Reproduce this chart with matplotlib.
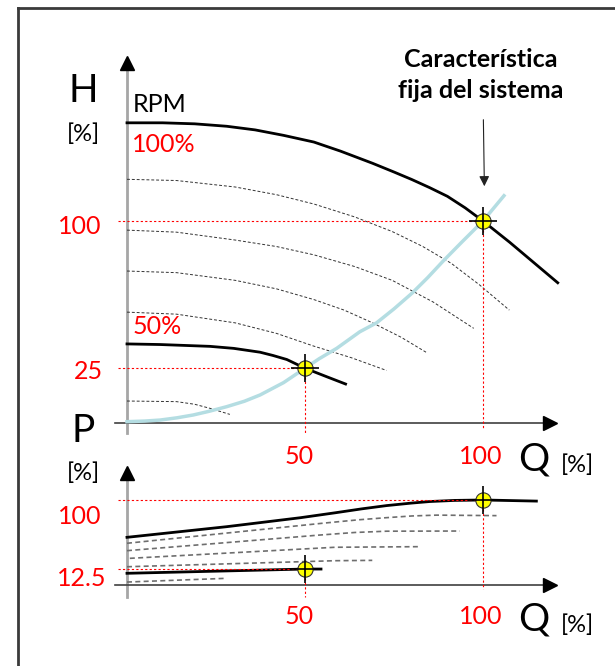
import numpy as np
import matplotlib.pyplot as plt
from matplotlib.lines import Line2D

plt.rcParams['font.family'] = ['Lato', 'DejaVu Sans']

# ---- data (Q, H, P in %) ----
# head curves, upper panel
q_h100 = [0, 10, 19, 28, 36, 44, 52.5, 60, 69, 75, 80, 85, 90, 95, 100, 107.5, 121]
h_h100 = [148.5, 148.5, 148, 146.8, 145, 142.3, 139, 134.5, 128.5, 124.2, 120.5, 116.5, 112.2, 106.5, 100, 89.5, 69.5]
q_h50 = [0, 9.3, 23.3, 30, 37.4, 41, 44.9, 50, 56.1, 61.4]
h_h50 = [39.3, 39.0, 38.1, 37.1, 35.2, 33.6, 31.6, 27.3, 23.1, 19.5]

# intermediate speeds (dashed)
q_hdash = [[0, 13.9, 30.4, 42, 52.5, 64, 74.5, 83, 91.1, 99, 107.4],
           [0, 13.9, 30.4, 42, 52.5, 64, 74.5, 86, 97.4],
           [0, 13.9, 30.4, 42, 52.5, 61, 69.0, 77, 84.2],
           [0, 13.9, 30.4, 42, 52.5, 63, 72.9],
           [0, 13.9, 19, 23.3, 28.9]]
h_hdash = [[120.6, 120, 116.8, 113, 108.4, 102, 94.8, 87.5, 79.1, 68.5, 56.0],
           [95.5, 94.5, 90.6, 87.4, 83.3, 77.5, 70.7, 60, 47.0],
           [75.3, 74.5, 70.7, 66.5, 61.2, 56, 49.7, 42.6, 35.0],
           [55.0, 54.0, 49.7, 44.5, 38.2, 32.5, 26.2],
           [11.1, 10.8, 9.5, 7.5, 4.5]]

# fixed system curve
q_sys = [0, 5, 9.3, 14, 18.6, 23, 28.0, 33, 37.4, 44, 50, 54, 58.9, 65.4, 70.1, 75, 80.1, 84.5, 88.8, 94, 100, 105.9]
h_sys = [0.9, 1.2, 1.7, 2.8, 4.2, 6.0, 8.3, 11.0, 14.1, 20.2, 27.3, 32, 37.1, 45.3, 49.7, 56.6, 64.4, 72.1, 80.2, 89.5, 100, 112.5]

# operating points
q_op = [100, 50]
h_op = [100, 27.3]
p_op = [100, 18.8]

# power curves, lower panel
q_p100 = [0, 28, 48.6, 58.4, 66, 72.9, 80, 85.1, 92, 100, 115]
p_p100 = [56.1, 68.6, 79.1, 84.9, 89.6, 93.4, 96.4, 98.2, 99.5, 100, 98.7]
q_p50 = [0, 50, 54.5]
p_p50 = [13.8, 18.8, 18.8]
q_pdash = [[0, 54.8, 65, 72.9, 80, 87, 103.8],
           [0, 54.2, 64, 72.9, 93.5],
           [0.8, 58.4, 81.7],
           [0, 58.4, 68.9],
           [0, 28]]
p_pdash = [[49.1, 72.6, 76.7, 79.2, 81.2, 82.2, 81.6],
           [40.4, 58.8, 61.8, 63.3, 63.5],
           [31.4, 44.4, 45.1],
           [21.5, 28.6, 29],
           [3.5, 7.9]]

W, Hpx = 615, 666
fig = plt.figure(figsize=(W / 100, Hpx / 100), dpi=100)


def px(x, y):
    return x / W, 1 - y / Hpx


RED = '#ff0000'
yellow = dict(marker='o', ms=11, mfc='#ffff00', mec='#333333', mew=0.8, ls='none', zorder=6)
cross = dict(marker='+', ms=20, mew=1.2, color='black', ls='none', zorder=7)
reddash = dict(color=RED, lw=0.8, ls=(0, (2, 2)), zorder=4)

# ---- upper panel: head ----
ax = fig.add_axes([100 / W, 1 - 445 / Hpx, 500 / W, 405 / Hpx])
ax.set_xlim(-7.58, 132.87)
ax.set_ylim(-10.62, 189.4)
ax.axis('off')

ax.plot([0, 0], [-4.7, 176], color='#a6a6a6', lw=2, zorder=1)
ax.plot([0], [177.8], marker='^', ms=10, color='black', ls='none')
ax.plot([-3.5, 118], [0, 0], color='#404040', lw=1.2, zorder=1)
ax.plot([118.8], [0], marker='>', ms=10, color='black', ls='none')

for qq, hh in zip(q_hdash, h_hdash):
    ax.plot(qq, hh, color='#333333', lw=0.7, ls=(0, (3, 2)))
ax.plot(q_sys, h_sys, color='#b4dde2', lw=2.5, zorder=2, solid_joinstyle='round')
ax.plot(q_h100, h_h100, color='black', lw=2, zorder=3, solid_joinstyle='round')
ax.plot(q_h50, h_h50, color='black', lw=2, zorder=3, solid_joinstyle='round')

for q, h in zip(q_op, h_op):
    ax.plot([-2.6, q], [h, h], **reddash)
ax.plot([100, 100], [100, -2.7], **reddash)
ax.plot([50, 50], [27.3, -4.7], **reddash)
ax.plot(q_op, h_op, **yellow)
ax.plot(q_op, h_op, **cross)

# ---- lower panel: power ----
bx = fig.add_axes([100 / W, 1 - 600 / Hpx, 500 / W, 145 / Hpx])
bx.set_xlim(-7.58, 132.87)
bx.set_ylim(-17.6, 152.9)
bx.axis('off')

bx.plot([0, 0], [-14, 127], color='#a6a6a6', lw=2, zorder=1)
bx.plot([0], [131.2], marker='^', ms=10, color='black', ls='none')
bx.plot([-3.5, 118], [0, 0], color='#404040', lw=1.2, zorder=1)
bx.plot([118.8], [0], marker='>', ms=10, color='black', ls='none')

for qq, pp in zip(q_pdash, p_pdash):
    bx.plot(qq, pp, color='#6e6e6e', lw=1.2, ls=(0, (3, 2)))
bx.plot(q_p100, p_p100, color='black', lw=2, zorder=3, solid_joinstyle='round')
bx.plot(q_p50, p_p50, color='black', lw=2, zorder=3)

for q, p in zip(q_op, p_op):
    bx.plot([-2.6, q], [p, p], **reddash)
bx.plot([100, 100], [100, -4.7], **reddash)
bx.plot([50, 50], [18.8, -14], **reddash)
bx.plot(q_op, p_op, **yellow)
bx.plot(q_op, p_op, **cross)

# ---- text ----
big, num, pct = 28, 18, 17
fig.text(*px(83, 91), 'H', fontsize=big, ha='center', va='center')
fig.text(*px(83, 134), '[%]', fontsize=pct, ha='center', va='center')
fig.text(*px(133, 104), 'RPM', fontsize=18, ha='left', va='center')
fig.text(*px(132, 145), '100%', fontsize=num, color=RED, ha='left', va='center')
fig.text(*px(133, 327), '50%', fontsize=num, color=RED, ha='left', va='center')
fig.text(*px(101, 227), '100', fontsize=num, color=RED, ha='right', va='center')
fig.text(*px(103, 372), '25', fontsize=num, color=RED, ha='right', va='center')

fig.text(*px(83, 431), 'P', fontsize=big, ha='center', va='center')
fig.text(*px(83, 473), '[%]', fontsize=pct, ha='center', va='center')
fig.text(*px(101, 516), '100', fontsize=num, color=RED, ha='right', va='center')
fig.text(*px(106, 578), '12.5', fontsize=num, color=RED, ha='right', va='center')

for yy in (457, 617):
    fig.text(*px(299, yy), '50', fontsize=num, color=RED, ha='center', va='center')
    fig.text(*px(480.6, yy), '100', fontsize=num, color=RED, ha='center', va='center')
    fig.text(*px(534, yy + 3), 'Q', fontsize=big, ha='center', va='center')
    fig.text(*px(577, yy + 8), '[%]', fontsize=pct, ha='center', va='center')

fig.text(*px(480.6, 59.5), 'Característica', fontsize=18, fontweight='bold', ha='center', va='center')
fig.text(*px(480.6, 90.5), 'fija del sistema', fontsize=18, fontweight='bold', ha='center', va='center')
ax.annotate('', xy=(100.4, 115.8), xytext=(100.1, 151.4),
            arrowprops=dict(arrowstyle='-|>', color='#222222', lw=0.8, mutation_scale=15))

# frame (only left and top edges visible)
fig.add_artist(Line2D([18 / W, 18 / W], [0, 1 - 8 / Hpx], color='#3a3a3a', lw=2))
fig.add_artist(Line2D([18 / W, 1], [1 - 8 / Hpx, 1 - 8 / Hpx], color='#3a3a3a', lw=2))

fig.savefig('out.png', dpi=100)
